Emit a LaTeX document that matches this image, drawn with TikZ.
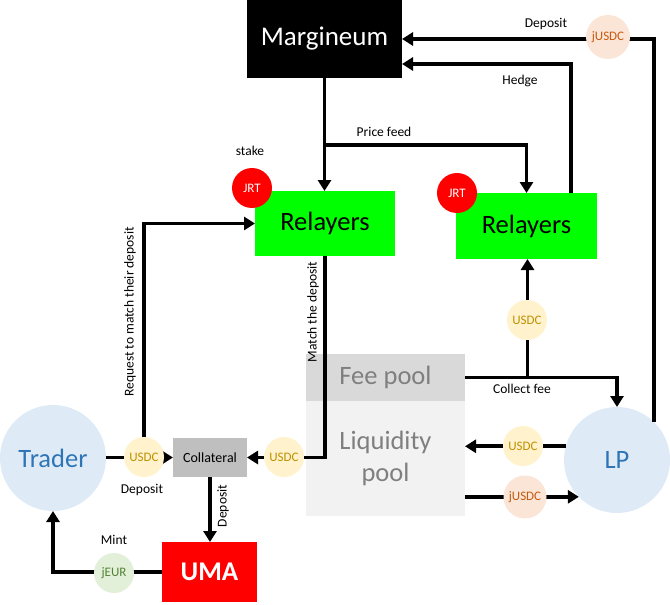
\documentclass[tikz,border=0pt]{standalone}
\usepackage{fontspec}
\setmainfont{Carlito}
\usetikzlibrary{arrows.meta,calc}
\definecolor{bubbleblue}{HTML}{DEEBF7}
\definecolor{textblue}{HTML}{2E75B6}
\definecolor{usdcfill}{HTML}{FFF2CC}
\definecolor{usdctext}{HTML}{BF9000}
\definecolor{jusdcfill}{HTML}{FBE5D6}
\definecolor{jusdctext}{HTML}{C55A11}
\definecolor{jeurfill}{HTML}{E2F0D9}
\definecolor{jeurtext}{HTML}{548235}
\definecolor{feefill}{HTML}{D9D9D9}
\definecolor{liqfill}{HTML}{F2F2F2}
\definecolor{pooltext}{HTML}{7F7F7F}
\definecolor{collfill}{HTML}{BFBFBF}
\definecolor{relgreen}{HTML}{00FF00}
\tikzset{
  box/.style={rectangle, inner sep=0pt, outer sep=0pt, align=center},
  bigtext/.style={font=\fontsize{26.5}{32}\selectfont},
  bubble/.style={circle, inner sep=0pt, outer sep=0pt, font=\fontsize{13}{15}\selectfont},
  usdcb/.style={bubble, fill=usdcfill, text=usdctext, minimum size=40pt},
  jusdcb/.style={bubble, fill=jusdcfill, text=jusdctext, minimum size=43pt},
  jrtb/.style={bubble, fill=red, text=white, minimum size=40pt},
  actor/.style={circle, inner sep=0pt, outer sep=0pt, fill=bubbleblue, text=textblue, minimum size=106pt, bigtext},
  lbl/.style={font=\fontsize{13.5}{16}\selectfont, inner sep=0pt},
  arr/.style={line width=3.6pt, -{Triangle[length=11pt,width=13pt]}},
}
\begin{document}
\begin{tikzpicture}[x=1pt,y=-1pt]
\useasboundingbox (0,0) rectangle (670,605);
% main nodes
\node[box, fill=black, text=white, minimum width=155pt, minimum height=78pt, font=\fontsize{27}{32}\selectfont] (marg) at (324.5,39) {Margineum};
\node[box, fill=relgreen, minimum width=140pt, minimum height=65pt, bigtext] (rel1) at (325,223.5) {Relayers};
\node[box, fill=relgreen, minimum width=141pt, minimum height=66pt, bigtext] (rel2) at (526.5,226) {Relayers};
\node[actor] (trader) at (53,458) {Trader};
\node[actor] (lp) at (617,460) {LP};
\node[box, fill=collfill, minimum width=74pt, minimum height=39pt, font=\fontsize{14}{16}\selectfont] (coll) at (210,457.5) {Collateral};
\node[box, fill=feefill, text=pooltext, minimum width=159pt, minimum height=47pt, bigtext] (fee) at (385.5,377.5) {Fee pool};
\node[box, fill=liqfill, text=pooltext, minimum width=159pt, minimum height=115pt, bigtext] (liq) at (385.5,458.5) {Liquidity\\pool};
\node[box, fill=red, text=white, minimum width=95pt, minimum height=60pt, font=\fontsize{27}{32}\selectfont\bfseries] (uma) at (209.5,572) {UMA};
% connectors
\coordinate (pf) at (324.5,145);
\draw[arr] (marg.south) -- (marg.south |- rel1.north);
\draw[arr] (pf) -| (rel2.north);
\draw[arr] ([xshift=44.5pt]rel2.north) |- ([yshift=-25pt]marg.east);
\draw[arr] (lp.46) |- (marg.east);
\draw[arr] (trader.east |- coll.west) -- (coll.west);
\draw[arr] (144,457) coordinate (u1c) |- (rel1.west);
\draw[arr] (rel1.south) |- (coll.east);
\draw[arr] (coll.south) -- (coll.south |- uma.north);
\draw[arr] (uma.west) -| (trader.south);
\draw[arr] (fee.east) -| (lp.north);
\draw[arr] ([xshift=1pt]rel2.south |- fee.east) -- ([xshift=1pt]rel2.south);
\draw[arr] (lp.165) -- (liq.east |- lp.165);
\draw[arr] (liq.east |- lp.224) -- (lp.224);
% bubbles on the lines
\node[usdcb] (usdc1) at (144,457) {USDC};
\node[usdcb] (usdc2) at (284,457) {USDC};
\node[usdcb] (usdc3) at (523,446) {USDC};
\node[usdcb] (usdc4) at (527,320) {USDC};
\node[jusdcb] (jusdc1) at (525,497) {jUSDC};
\node[jusdcb, minimum size=44pt] (jusdc2) at (608,37) {jUSDC};
\node[bubble, fill=jeurfill, text=jeurtext, minimum size=40pt] (jeur) at (114,573) {jEUR};
\node[jrtb] (jrt1) at (252,188) {JRT};
\node[jrtb] (jrt2) at (457,193) {JRT};
% labels
\node[lbl] (lpf) at (384,132) {Price feed};
\node[lbl] (ldep1) at (546,24) {Deposit};
\node[lbl] (lhedge) at (520,81) {Hedge};
\node[lbl] (lstake) at (250,151) {stake};
\node[lbl] (lcollect) at (522,389) {Collect fee};
\node[lbl] (ldep2) at (142,490) {Deposit};
\node[lbl] (lmint) at (114,540) {Mint};
\node[lbl, rotate=90] (lreq) at (130,312) {Request to match their deposit};
\node[lbl, rotate=90] (lmatch) at (313,312) {Match the deposit};
\node[lbl, rotate=90] (ldep3) at (223,506) {Deposit};
\end{tikzpicture}
\end{document}
